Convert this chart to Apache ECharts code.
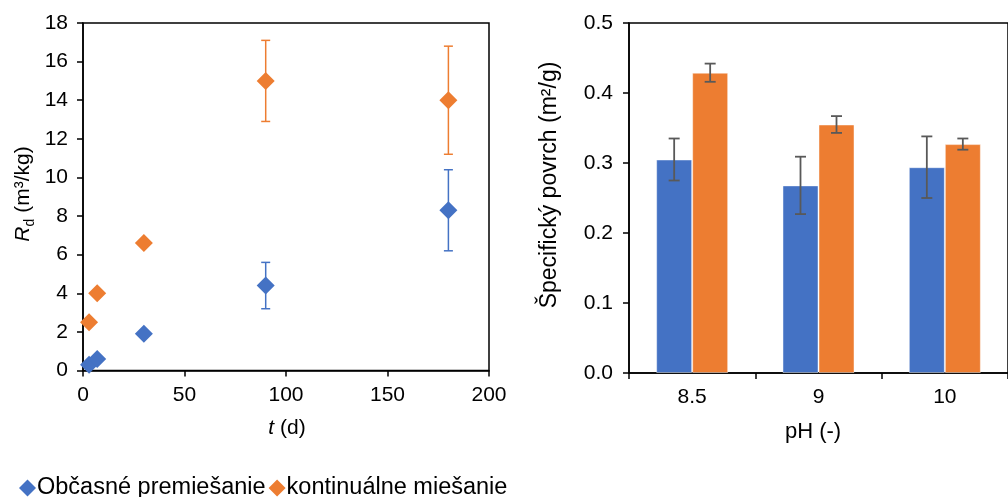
<!DOCTYPE html>
<html>
<head>
<meta charset="utf-8">
<script src="https://cdn.jsdelivr.net/npm/echarts@6/dist/echarts.min.js"></script>
<style>
html,body{margin:0;padding:0;background:#fff;}
#chart{width:1008px;height:497px;}
</style>
</head>
<body>
<div id="chart"></div>
<script>
// ---- Left chart data (t in days, Rd in m3/kg) ----
const seriesNames = ['Občasné premiešanie', 'kontinuálne miešanie'];
const tOccasional = [3, 7, 30, 90, 180];
const rdOccasional = [0.3, 0.6, 1.9, 4.4, 8.3];
const errOccasional = [0, 0, 0, 1.2, 2.1];
const tContinuous = [3, 7, 30, 90, 180];
const rdContinuous = [2.5, 4.0, 6.6, 15.0, 14.0];
const errContinuous = [0, 0, 0, 2.1, 2.8];

// ---- Right chart data (specific surface, m2/g) ----
const phCategories = ['8.5', '9', '10'];
const surfOccasional = [0.305, 0.268, 0.294];
const surfOccasionalErr = [0.030, 0.041, 0.044];
const surfContinuous = [0.429, 0.355, 0.327];
const surfContinuousErr = [0.013, 0.012, 0.008];

const BLUE = '#4472C4', ORANGE = '#ED7D31', ERRGRAY = '#595959', AX = '#000';
const FONT = 'Liberation Sans, Arial, sans-serif';
const FS = 21;

function pairs(xs, ys, es) { return xs.map((x, i) => [x, ys[i], es[i]]); }

function scatterErr(color) {
  return function (params, api) {
    const x = api.value(0), y = api.value(1), e = api.value(2);
    if (!e) return null;
    const top = api.coord([x, y + e]);
    const bot = api.coord([x, y - e]);
    const cw = 4.5;
    const st = { stroke: color, lineWidth: 1.5 };
    return { type: 'group', children: [
      { type: 'line', shape: { x1: top[0], y1: top[1], x2: bot[0], y2: bot[1] }, style: st },
      { type: 'line', shape: { x1: top[0] - cw, y1: top[1], x2: top[0] + cw, y2: top[1] }, style: st },
      { type: 'line', shape: { x1: bot[0] - cw, y1: bot[1], x2: bot[0] + cw, y2: bot[1] }, style: st }
    ]};
  };
}

const BAR_FRAC = 0.285;
function barErr(sign) {
  return function (params, api) {
    const i = api.value(0), y = api.value(1), e = api.value(2);
    const band = api.size([1, 0])[0];
    const off = sign * band * BAR_FRAC / 2;
    const top = api.coord([i, y + e]);
    const bot = api.coord([i, y - e]);
    const x = top[0] + off;
    const cw = 5.5;
    const st = { stroke: ERRGRAY, lineWidth: 1.8 };
    return { type: 'group', children: [
      { type: 'line', shape: { x1: x, y1: top[1], x2: x, y2: bot[1] }, style: st },
      { type: 'line', shape: { x1: x - cw, y1: top[1], x2: x + cw, y2: top[1] }, style: st },
      { type: 'line', shape: { x1: x - cw, y1: bot[1], x2: x + cw, y2: bot[1] }, style: st }
    ]};
  };
}

const axisLabel = (extra) => Object.assign({ color: '#000', fontSize: FS, fontFamily: FONT }, extra);
const axisLine = { show: true, lineStyle: { color: AX, width: 1.5 } };
const axisTick = { show: true, length: 6, inside: false, lineStyle: { color: AX, width: 1.5 } };

const chart = echarts.init(document.getElementById('chart'), null, { renderer: 'canvas' });
const option = {
  backgroundColor: '#fff',
  animation: false,
  textStyle: { fontFamily: FONT },
  grid: [
    { left: 83, top: 23, width: 406, height: 347.5, show: true, borderColor: AX, borderWidth: 1.5, containLabel: false },
    { left: 629, top: 23, width: 384, height: 350, show: true, borderColor: AX, borderWidth: 1.5, containLabel: false }
  ],
  xAxis: [
    { type: 'value', gridIndex: 0, min: 0, max: 200, interval: 50, splitLine: { show: false },
      axisLine: axisLine, axisTick: axisTick, axisLabel: axisLabel({ margin: 14 }) },
    { type: 'category', gridIndex: 1, data: phCategories, boundaryGap: true,
      axisLine: axisLine, axisTick: Object.assign({ alignWithLabel: false }, axisTick),
      axisLabel: axisLabel({ margin: 14 }) }
  ],
  yAxis: [
    { type: 'value', gridIndex: 0, min: 0, max: 18, interval: 2, splitLine: { show: false },
      axisLine: axisLine, axisTick: axisTick, axisLabel: axisLabel({ margin: 15 }) },
    { type: 'value', gridIndex: 1, min: 0, max: 0.5, interval: 0.1, splitLine: { show: false },
      axisLine: axisLine, axisTick: axisTick,
      axisLabel: axisLabel({ margin: 16, formatter: v => v.toFixed(1) }) }
  ],
  legend: {
    data: seriesNames,
    left: 14, top: 471, itemGap: 3, itemWidth: 17, itemHeight: 17,
    icon: 'diamond',
    textStyle: { fontSize: 23.5, fontFamily: FONT, color: '#000', padding: [0, 0, 0, -4] }
  },
  series: [
    { type: 'custom', name: 'errOcc', xAxisIndex: 0, yAxisIndex: 0, renderItem: scatterErr(BLUE),
      data: pairs(tOccasional, rdOccasional, errOccasional), z: 1, encode: { x: 0, y: 1 } },
    { type: 'custom', name: 'errCont', xAxisIndex: 0, yAxisIndex: 0, renderItem: scatterErr(ORANGE),
      data: pairs(tContinuous, rdContinuous, errContinuous), z: 1, encode: { x: 0, y: 1 } },
    { type: 'scatter', name: seriesNames[0], xAxisIndex: 0, yAxisIndex: 0, symbol: 'diamond', symbolSize: 18,
      itemStyle: { color: BLUE, opacity: 1 }, z: 3,
      data: tOccasional.map((t, i) => [t, rdOccasional[i]]) },
    { type: 'scatter', name: seriesNames[1], xAxisIndex: 0, yAxisIndex: 0, symbol: 'diamond', symbolSize: 18,
      itemStyle: { color: ORANGE, opacity: 1 }, z: 3,
      data: tContinuous.map((t, i) => [t, rdContinuous[i]]) },
    { type: 'bar', name: 'barOcc', xAxisIndex: 1, yAxisIndex: 1, barWidth: (BAR_FRAC * 100) + '%', barGap: '0%',
      itemStyle: { color: BLUE, borderColor: 'rgba(255,255,255,0.45)', borderWidth: 1 }, data: surfOccasional },
    { type: 'bar', name: 'barCont', xAxisIndex: 1, yAxisIndex: 1, barWidth: (BAR_FRAC * 100) + '%', barGap: '0%',
      itemStyle: { color: ORANGE, borderColor: 'rgba(255,255,255,0.45)', borderWidth: 1 }, data: surfContinuous },
    { type: 'custom', name: 'errBarOcc', xAxisIndex: 1, yAxisIndex: 1, renderItem: barErr(-1), z: 5,
      data: surfOccasional.map((v, i) => [i, v, surfOccasionalErr[i]]), encode: { x: 0, y: 1 } },
    { type: 'custom', name: 'errBarCont', xAxisIndex: 1, yAxisIndex: 1, renderItem: barErr(1), z: 5,
      data: surfContinuous.map((v, i) => [i, v, surfContinuousErr[i]]), encode: { x: 0, y: 1 } }
  ],
  graphic: [
    { type: 'text', x: 23, y: 194, rotation: Math.PI / 2,
      style: { text: '{i|R}{sub|d}{n| (m³/kg)}', align: 'center', verticalAlign: 'middle', fill: '#000',
        fontSize: FS, fontFamily: FONT,
        rich: {
          i: { fontStyle: 'italic', fontSize: FS, fontFamily: FONT, lineHeight: 28, fill: '#000' },
          sub: { fontSize: 14, fontFamily: FONT, lineHeight: 14, verticalAlign: 'bottom', fill: '#000' },
          n: { fontSize: FS, fontFamily: FONT, lineHeight: 28, fill: '#000' }
        } } },
    { type: 'text', x: 287, y: 428,
      style: { text: '{i|t}{n| (d)}', align: 'center', verticalAlign: 'middle', fill: '#000',
        fontSize: FS, fontFamily: FONT,
        rich: {
          i: { fontStyle: 'italic', fontSize: FS, fontFamily: FONT, fill: '#000' },
          n: { fontSize: FS, fontFamily: FONT, fill: '#000' }
        } } },
    { type: 'text', x: 550, y: 185, rotation: Math.PI / 2,
      style: { text: 'Špecifický povrch (m²/g)', align: 'center', verticalAlign: 'middle', fill: '#000',
        fontSize: 23, fontFamily: FONT } },
    { type: 'text', x: 813, y: 432,
      style: { text: 'pH (-)', align: 'center', verticalAlign: 'middle', fill: '#000',
        fontSize: 22, fontFamily: FONT } }
  ]
};
chart.setOption(option);
</script>
</body>
</html>
